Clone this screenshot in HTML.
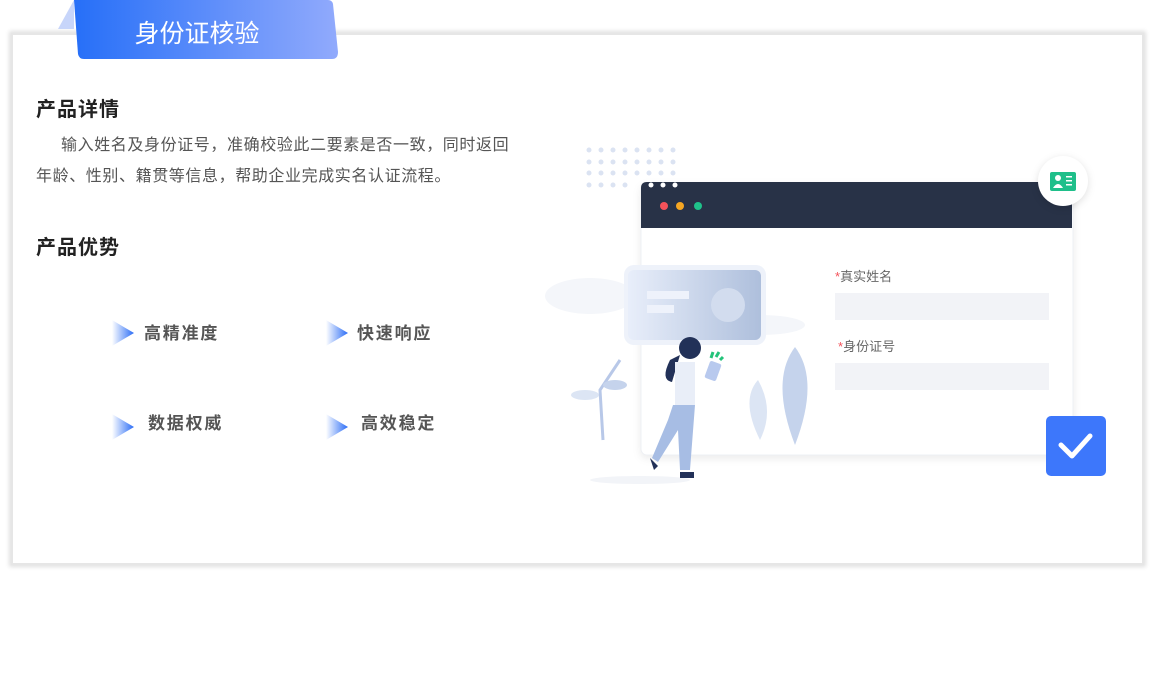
<!DOCTYPE html>
<html><head><meta charset="utf-8"><style>
body{margin:0;width:1153px;height:689px;background:#fff;position:relative;overflow:hidden;font-family:"Liberation Sans","Noto Sans CJK SC",sans-serif}
.card{position:absolute;left:11px;top:33px;width:1129px;height:528px;background:#fff;border:2px solid #e6e6e6;box-shadow:0 0 4px 2px rgba(0,0,0,0.12)}
.tab{position:absolute;left:70px;top:0;width:268px;height:59px}
h3{position:absolute;margin:0;font-size:20px;letter-spacing:1px;font-weight:bold;color:#222;line-height:22px}
.p{position:absolute;left:36px;top:130px;width:520px;font-size:16px;letter-spacing:0.6px;line-height:31px;color:#555;text-indent:25px;white-space:nowrap}
.f{position:absolute;font-size:17px;letter-spacing:1.8px;font-weight:bold;color:#555;line-height:20px}
.ar{position:absolute;width:22px;height:26px;clip-path:polygon(0 0,100% 50%,0 100%);background:linear-gradient(90deg,#fff,#2a6cf6)}
</style></head><body>
<div class="card"></div>
<svg class="tab" viewBox="0 0 268 59" style="overflow:visible">
<defs><linearGradient id="g" x1="0" x2="1"><stop offset="0" stop-color="#266ff8"/><stop offset="1" stop-color="#91aafc"/></linearGradient></defs>
<polygon points="-12,29 4,0 4,29" fill="#c7d5fa"/>
<path d="M4 0 H258 Q262 0 263 4 L268 52 Q268 59 262 59 H14 Q9 59 8 54 Z" fill="url(#g)"/>
<text x="127" y="42" text-anchor="middle" font-size="25" fill="#fff" font-family="Liberation Sans,Noto Sans CJK SC,sans-serif">身份证核验</text>
</svg>
<h3 style="left:36px;top:99px">产品详情</h3>
<div class="p">输入姓名及身份证号，准确校验此二要素是否一致，同时返回<br>年龄、性别、籍贯等信息，帮助企业完成实名认证流程。</div>
<h3 style="left:36px;top:237px">产品优势</h3>
<div class="ar" style="left:112px;top:320px"></div><div class="f" style="left:144px;top:324px">高精准度</div>
<div class="ar" style="left:326px;top:320px"></div><div class="f" style="left:357px;top:324px">快速响应</div>
<div class="ar" style="left:112px;top:414px"></div><div class="f" style="left:148px;top:414px">数据权威</div>
<div class="ar" style="left:326px;top:414px"></div><div class="f" style="left:361px;top:414px">高效稳定</div>

<svg style="position:absolute;left:0;top:0" width="1153" height="689">
<g fill="#dbe3f2">
<circle cx="589" cy="150" r="2.5"/><circle cx="601" cy="150" r="2.5"/><circle cx="613" cy="150" r="2.5"/><circle cx="625" cy="150" r="2.5"/><circle cx="637" cy="150" r="2.5"/><circle cx="649" cy="150" r="2.5"/><circle cx="661" cy="150" r="2.5"/><circle cx="673" cy="150" r="2.5"/>
<circle cx="589" cy="162" r="2.5"/><circle cx="601" cy="162" r="2.5"/><circle cx="613" cy="162" r="2.5"/><circle cx="625" cy="162" r="2.5"/><circle cx="637" cy="162" r="2.5"/><circle cx="649" cy="162" r="2.5"/><circle cx="661" cy="162" r="2.5"/><circle cx="673" cy="162" r="2.5"/>
<circle cx="589" cy="173" r="2.5"/><circle cx="601" cy="173" r="2.5"/><circle cx="613" cy="173" r="2.5"/><circle cx="625" cy="173" r="2.5"/><circle cx="637" cy="173" r="2.5"/><circle cx="649" cy="173" r="2.5"/><circle cx="661" cy="173" r="2.5"/><circle cx="673" cy="173" r="2.5"/>
<circle cx="589" cy="185" r="2.5"/><circle cx="601" cy="185" r="2.5"/><circle cx="613" cy="185" r="2.5"/><circle cx="625" cy="185" r="2.5"/>
</g>
<rect x="641" y="183" width="432" height="272" rx="6" fill="#fff" stroke="#eef0f4" filter="drop-shadow(0 3px 4px rgba(0,0,0,0.08))"/>
<path d="M647 182 H1072 V228 H641 V188 Q641 182 647 182Z" fill="#283247"/>
<g fill="#fff"><circle cx="651" cy="185" r="2.5"/><circle cx="663" cy="185" r="2.5"/><circle cx="675" cy="185" r="2.5"/></g>
<circle cx="664" cy="206" r="4" fill="#f4525a"/><circle cx="680" cy="206" r="4" fill="#f5a623"/><circle cx="698" cy="206" r="4" fill="#1fc28a"/>
<circle cx="1063" cy="181" r="25" fill="#fff" filter="drop-shadow(0 2px 4px rgba(0,0,0,0.12))"/>
<rect x="1050" y="172" width="26" height="19" rx="2" fill="#1fbf8a"/>
<circle cx="1058" cy="178" r="3" fill="#fff"/><path d="M1053 188 Q1058 180 1063 188Z" fill="#fff"/><rect x="1066" y="176" width="6" height="1.5" fill="#fff"/><rect x="1066" y="180" width="6" height="1.5" fill="#fff"/><rect x="1066" y="184" width="6" height="1.5" fill="#fff"/>
<text x="835" y="281" font-size="13" fill="#666"><tspan fill="#f4525a">*</tspan>真实姓名</text>
<rect x="835" y="293" width="214" height="27" fill="#f2f3f7"/>
<text x="838" y="351" font-size="13" fill="#666"><tspan fill="#f4525a">*</tspan>身份证号</text>
<rect x="835" y="363" width="214" height="27" fill="#f2f3f7"/>
<rect x="1046" y="416" width="60" height="60" rx="5" fill="#3d77fb"/>
<path d="M1061 445 L1072 456 L1090 436" stroke="#fff" stroke-width="5" fill="none" stroke-linecap="round" stroke-linejoin="round"/>
<g fill="#f4f6fa"><ellipse cx="590" cy="296" rx="45" ry="18"/><ellipse cx="760" cy="325" rx="45" ry="10"/></g>
<rect x="624" y="265" width="142" height="80" rx="10" fill="#eef2fa"/>
<defs><linearGradient id="c" x1="0" x2="1"><stop offset="0" stop-color="#e8eefa"/><stop offset="1" stop-color="#aebfdc"/></linearGradient></defs>
<rect x="628" y="270" width="133" height="70" rx="6" fill="url(#c)"/>
<rect x="647" y="291" width="42" height="8" fill="#eef2fb"/><rect x="647" y="305" width="27" height="8" fill="#eef2fb"/>
<circle cx="728" cy="305" r="17" fill="#d2dcee"/>
<g fill="#c5d3ec"><path d="M795 445 Q770 380 795 347 Q820 380 795 445Z"/><path d="M760 440 Q740 400 758 380 Q775 410 760 440Z" opacity=".6"/><path d="M603 440 L600 390 L620 360" stroke="#b8c8e8" stroke-width="3" fill="none"/><ellipse cx="585" cy="395" rx="14" ry="5" opacity=".6"/><ellipse cx="615" cy="385" rx="12" ry="5"/></g>
<ellipse cx="640" cy="480" rx="50" ry="4" fill="#f2f4f8"/>
<circle cx="690" cy="348" r="11" fill="#223158"/><path d="M670 360 Q660 380 672 382 L680 355Z" fill="#223158"/>
<path d="M675 362 L695 362 L695 405 L675 405Z" fill="#e9eef8"/>
<path d="M673 405 L695 405 L690 470 L680 470 L678 430 L658 462 L652 458 L668 420Z" fill="#a7bde4"/>
<path d="M650 458 l8 8 l-4 4Z M680 472 h14 v6 h-14Z" fill="#223158"/>
<rect x="707" y="362" width="12" height="18" rx="2" fill="#b8c9ee" transform="rotate(20 713 371)"/>
<path d="M711 358 l2 -6 M716 357 l3 -5 M720 360 l3 -3" stroke="#24c37a" stroke-width="3"/>
</svg>
</body></html>
